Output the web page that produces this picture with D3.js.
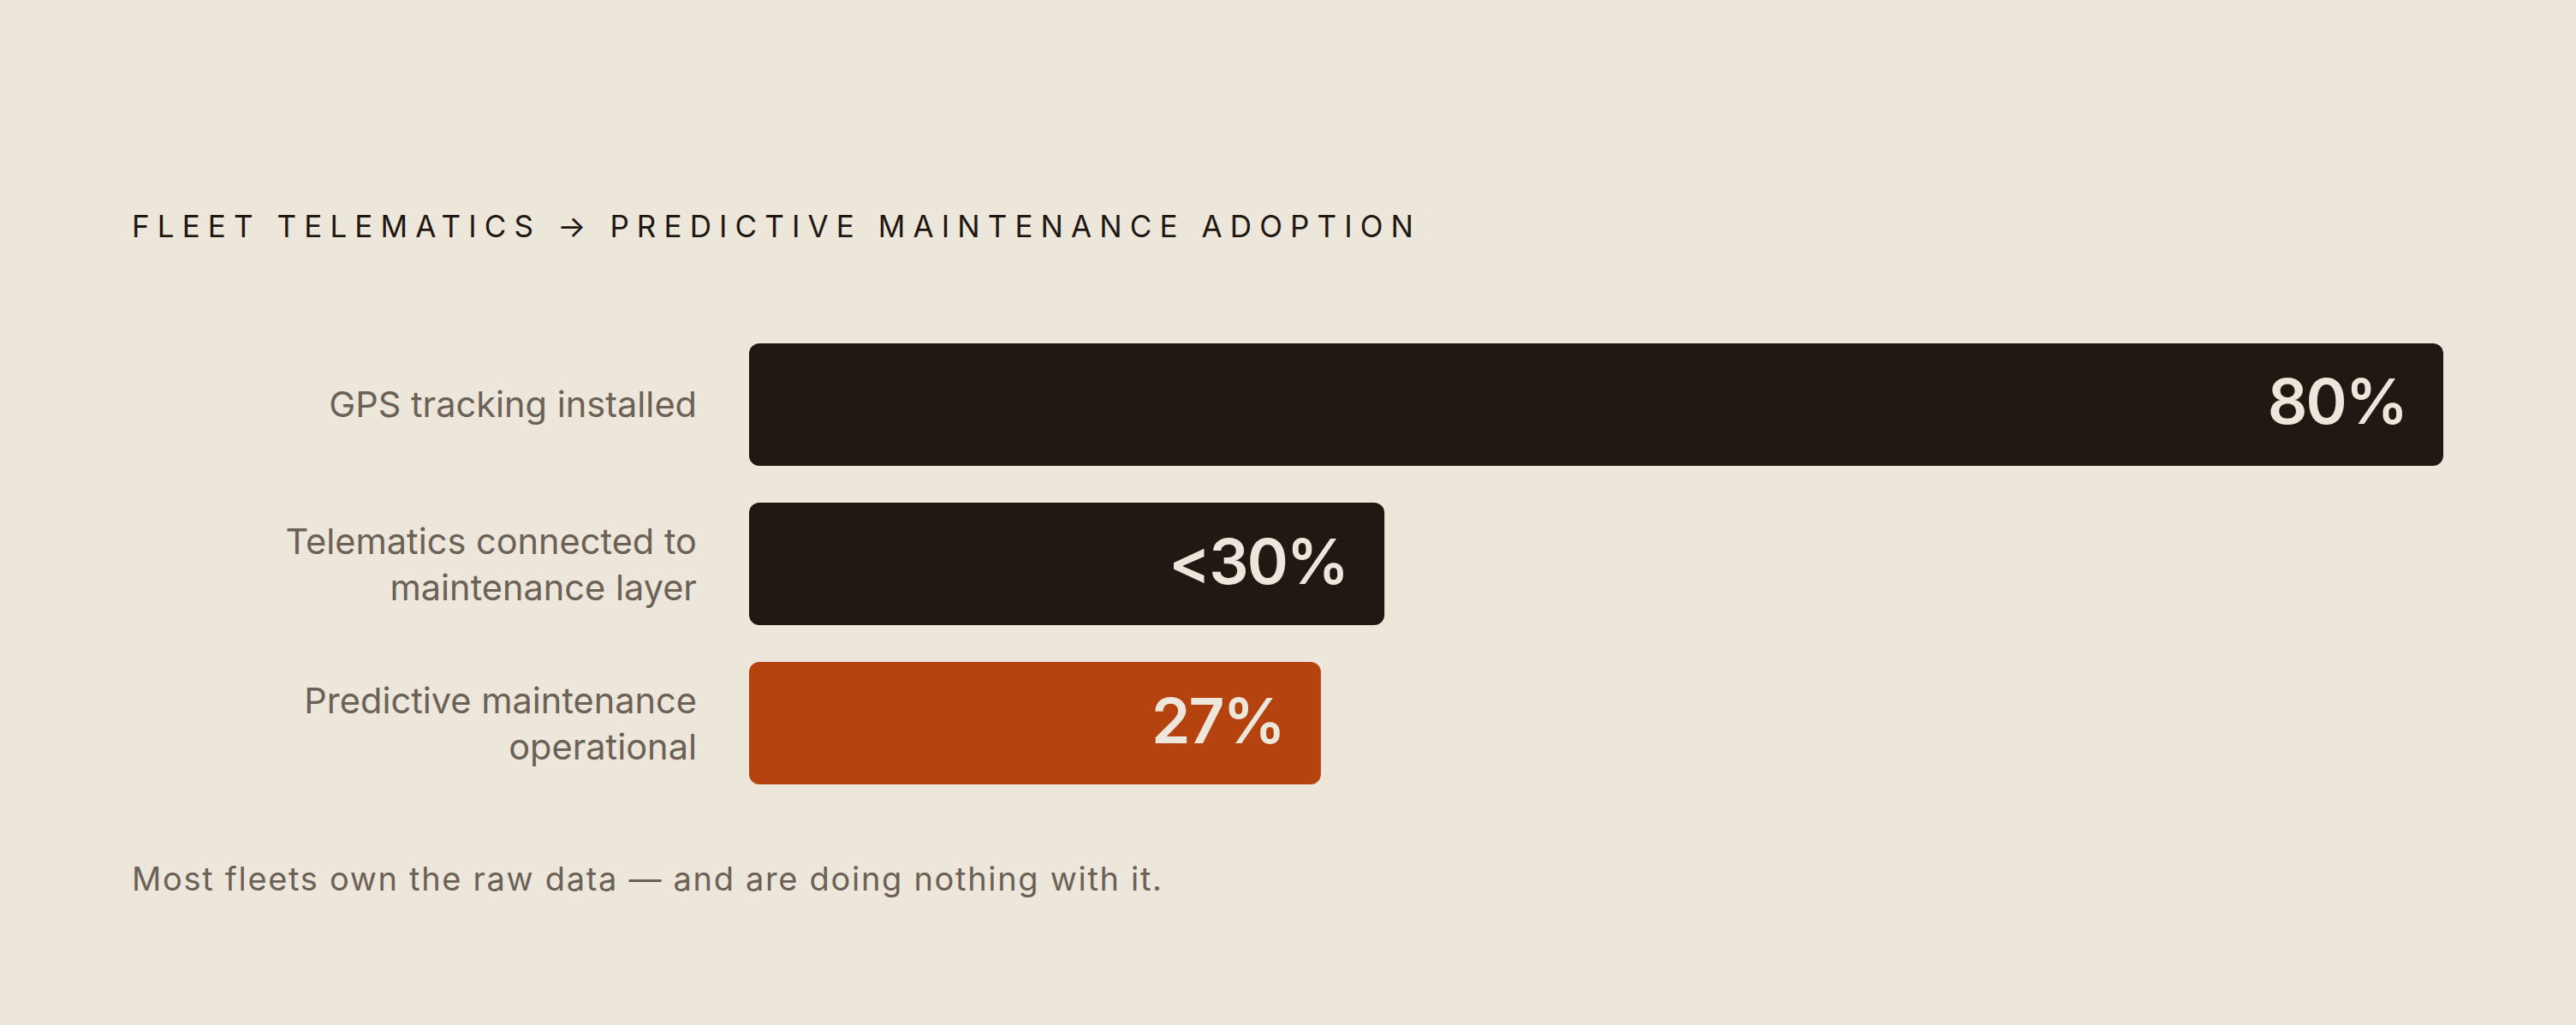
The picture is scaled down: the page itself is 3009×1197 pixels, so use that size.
<!DOCTYPE html>
<html>
<head>
<meta charset="utf-8">
<script src="https://cdn.jsdelivr.net/npm/d3@7"></script>
<style>
  html, body { margin: 0; padding: 0; background: #ede6da; }
  svg { display: block; }
</style>
</head>
<body>
<div id="chart"></div>
<script>
const title = "FLEET TELEMATICS \u2192 PREDICTIVE MAINTENANCE ADOPTION";
const footnote = "Most fleets own the raw data \u2014 and are doing nothing with it.";
const categories = [
  ["GPS tracking installed"],
  ["Telematics connected to", "maintenance layer"],
  ["Predictive maintenance", "operational"]
];
const values = [80, 30, 27];
const valueLabels = ["80%", "<30%", "27%"];
const highlight = [false, false, true];

const W = 3009, H = 1197;
const svg = d3.select("#chart").append("svg").attr("width", W).attr("height", H);
svg.append("rect").attr("width", W).attr("height", H).attr("fill", "#ede6da");

const font = "Inter, 'DejaVu Sans', sans-serif";

const x = d3.scaleLinear().domain([0, d3.max(values)]).range([875, 2854]);
const y = d3.scaleBand().domain(d3.range(values.length)).range([401, 916]).paddingInner(0.232).paddingOuter(0);

function fitText(sel, target) {
  const node = sel.node();
  const w = node.getComputedTextLength();
  const n = node.textContent.length;
  const ls = (target - w) / (n - 1);
  sel.attr("letter-spacing", ls);
}

// Title
const t = svg.append("text")
  .attr("x", 154).attr("y", 277)
  .attr("font-family", font).attr("font-size", 35).attr("font-weight", 400)
  .attr("fill", "#1f1812")
  .text(title);
fitText(t, 1497);

// Bars
const g = svg.append("g");
g.selectAll("rect.bar").data(values).join("rect")
  .attr("class", "bar")
  .attr("x", x(0))
  .attr("y", (d, i) => y(i))
  .attr("width", d => x(d) - x(0))
  .attr("height", y.bandwidth())
  .attr("rx", 12).attr("ry", 12)
  .attr("fill", (d, i) => highlight[i] ? "#b5430f" : "#211813");

// Value labels
g.selectAll("text.val").data(values).join("text")
  .attr("class", "val")
  .attr("x", d => x(d) - 43)
  .attr("y", (d, i) => y(i) + y.bandwidth() / 2 + 23)
  .attr("text-anchor", "end")
  .attr("font-family", font).attr("font-size", 73).attr("font-weight", 600)
  .attr("letter-spacing", -2)
  .attr("fill", "#ede6da")
  .text((d, i) => valueLabels[i]);

// Category labels
const lineH = 54;
categories.forEach((lines, i) => {
  const cy = y(i) + y.bandwidth() / 2;
  const txt = g.append("text")
    .attr("text-anchor", "end")
    .attr("font-family", font).attr("font-size", 41.5).attr("font-weight", 400)
    .attr("fill", "#6b6157");
  lines.forEach((ln, j) => {
    const off = (j - (lines.length - 1) / 2) * lineH;
    txt.append("tspan")
      .attr("x", 814)
      .attr("y", cy + off + 15)
      .text(ln);
  });
});

// Footnote
const f = svg.append("text")
  .attr("x", 154).attr("y", 1040)
  .attr("font-family", font).attr("font-size", 38).attr("font-weight", 400)
  .attr("fill", "#6b6157")
  .text(footnote);
fitText(f, 1203);
</script>
</body>
</html>
